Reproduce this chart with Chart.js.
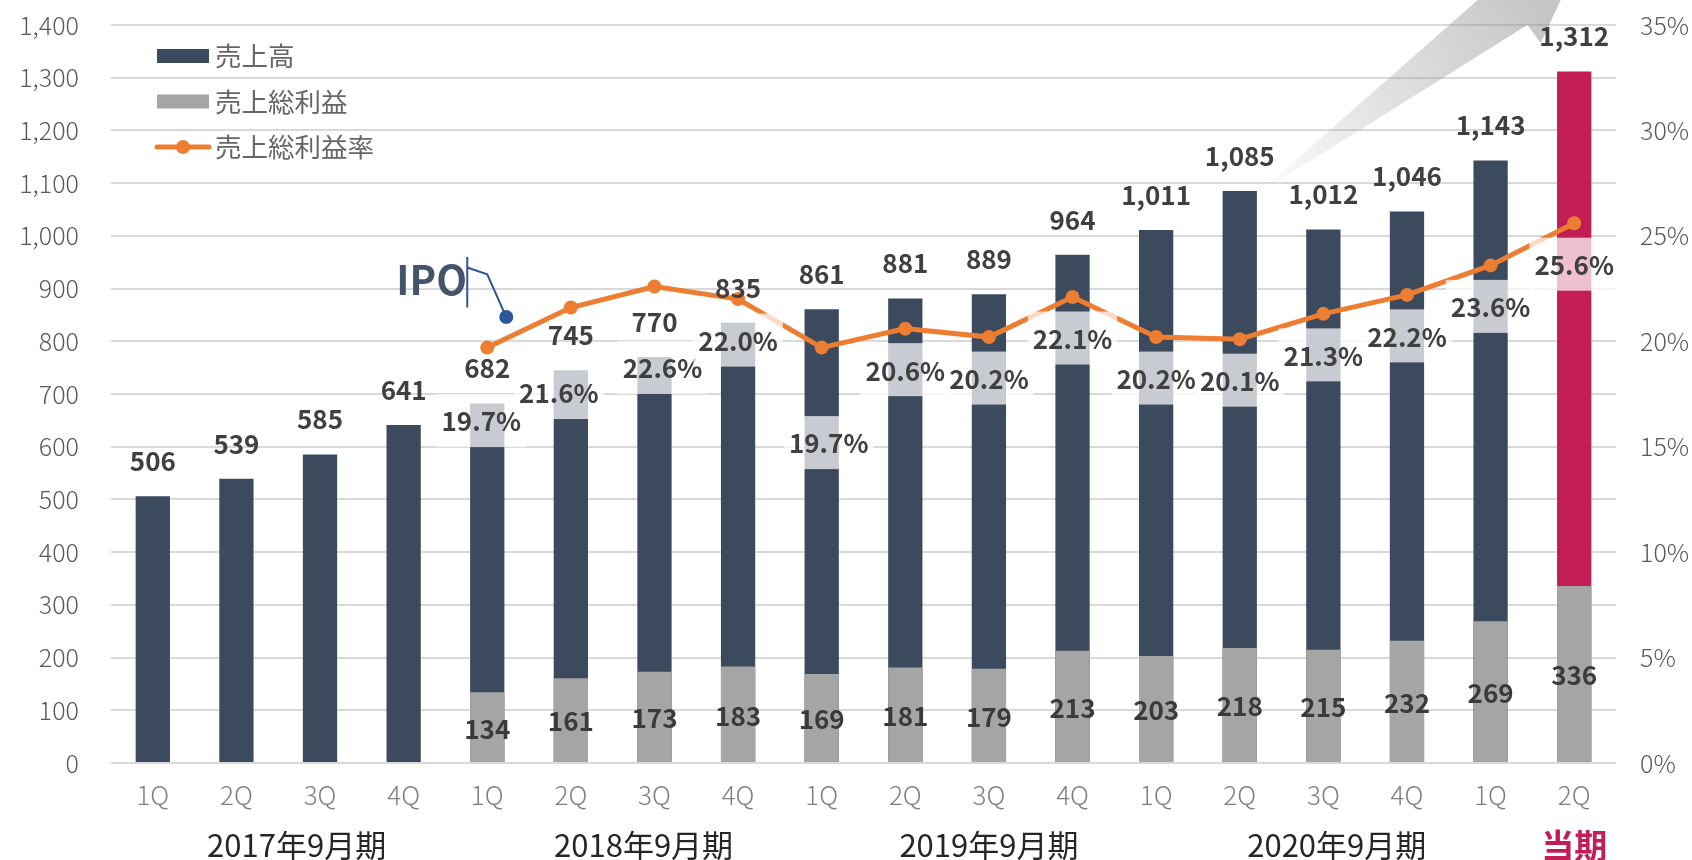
<!DOCTYPE html>
<html lang="ja">
<head>
<meta charset="utf-8">
<script src="https://cdn.jsdelivr.net/npm/chart.js@4.4.1/dist/chart.umd.min.js"></script>
<style>
  html, body { margin: 0; padding: 0; background: #fff; }
</style>
</head>
<body>
<canvas id="salesChart" width="1692" height="860"></canvas>
<script>
// ── Data ─────────────────────────────────────────────
const quarters    = ['1Q','2Q','3Q','4Q','1Q','2Q','3Q','4Q','1Q','2Q','3Q','4Q','1Q','2Q','3Q','4Q','1Q','2Q'];
const fiscalYears = ['2017年9月期','2018年9月期','2019年9月期','2020年9月期','当期'];
const sales       = [506,539,585,641,682,745,770,835,861,881,889,964,1011,1085,1012,1046,1143,1312];
const grossProfit = [null,null,null,null,134,161,173,183,169,181,179,213,203,218,215,232,269,336];
const grossMargin = [null,null,null,null,19.7,21.6,22.6,22.0,19.7,20.6,20.2,22.1,20.2,20.1,21.3,22.2,23.6,25.6];

// ── Layout helpers (not data) ────────────────────────
const yearLabelAt = [1.72, 5.87, 10.0, 14.16, 17];
const pctDrop     = [0,0,0,0,73,85,81,41,95,41,41,41,41,41,41,41,41,41];
const pctShiftX   = [0,0,0,0,-6,-12,8,0,7,0,0,0,0,0,0,0,0,0];

const FONT   = "'Noto Sans CJK JP', 'Noto Sans', sans-serif";
const NAVY   = '#3C4A5D';
const GRAY   = '#A5A5A5';
const RED    = '#C21D55';
const ORANGE = '#ED7D31';
const CURRENT = sales.length - 1;

// fixed axis widths, no extra top/bottom padding from tick labels
const fixWidth = w => s => { s.width = w; s.paddingTop = 0; s.paddingBottom = 0; };

// arrow drawn behind the bars
const arrowPlugin = {
  id: 'arrow',
  beforeDatasetsDraw(chart) {
    const { ctx, scales: { x, y } } = chart;
    const px = i => x.getPixelForValue(i);
    const py = v => y.getPixelForValue(v);
    const tail = [px(13.2), py(1078)];
    ctx.save();
    const g = ctx.createLinearGradient(tail[0], tail[1], px(16.6), py(1440));
    g.addColorStop(0, 'rgba(150,150,150,0.0)');
    g.addColorStop(0.45, 'rgba(150,150,150,0.28)');
    g.addColorStop(1, 'rgba(140,140,140,0.5)');
    ctx.fillStyle = g;
    ctx.beginPath();
    ctx.moveTo(tail[0], tail[1]);
    ctx.lineTo(px(15.85), py(1448));
    ctx.lineTo(px(16.84), py(1448));
    ctx.lineTo(px(16.6), py(1366));
    ctx.lineTo(px(16.44), py(1400));
    ctx.closePath();
    ctx.fill();
    ctx.restore();
  }
};

const labelPlugin = {
  id: 'labels',
  afterDatasetsDraw(chart) {
    const { ctx, chartArea, scales: { x, y, y1 } } = chart;
    ctx.save();
    ctx.textAlign = 'center';
    ctx.textBaseline = 'middle';

    // margin % boxes
    ctx.font = `bold 26px ${FONT}`;
    grossMargin.forEach((v, i) => {
      if (v == null) return;
      const cx  = x.getPixelForValue(i) + pctShiftX[i];
      const cy  = y1.getPixelForValue(v) + pctDrop[i];
      const txt = v.toFixed(1) + '%';
      const w   = ctx.measureText(txt).width + 10;
      ctx.fillStyle = 'rgba(255,255,255,0.72)';
      ctx.fillRect(cx - w / 2, cy - 26.5, w, 53);
      ctx.fillStyle = '#404040';
      ctx.fillText(txt, cx, cy + 1);
    });

    // sales on top of bars
    sales.forEach((v, i) => {
      ctx.fillStyle = '#404040';
      ctx.fillText(v.toLocaleString('en-US'), x.getPixelForValue(i), y.getPixelForValue(v) - 35);
    });

    // gross profit inside gray bars
    grossProfit.forEach((v, i) => {
      if (v == null) return;
      const cy = (y.getPixelForValue(v) + y.getPixelForValue(0)) / 2;
      ctx.fillStyle = '#3A3A3A';
      ctx.fillText(String(v), x.getPixelForValue(i), cy + 1);
    });

    // fiscal year labels under the quarters
    fiscalYears.forEach((t, i) => {
      const cur = i === fiscalYears.length - 1;
      ctx.font = cur ? `bold 33px ${FONT}` : `31px ${FONT}`;
      ctx.fillStyle = cur ? RED : '#262626';
      ctx.fillText(t, x.getPixelForValue(yearLabelAt[i]), chartArea.bottom + 82);
    });

    // IPO marker
    const bx = x.getPixelForValue(4);
    ctx.strokeStyle = '#2F5597';
    ctx.fillStyle = '#2F5597';
    ctx.lineWidth = 2;
    ctx.beginPath();
    ctx.moveTo(bx - 20, y.getPixelForValue(960));
    ctx.lineTo(bx - 20, y.getPixelForValue(864));
    ctx.stroke();
    ctx.beginPath();
    ctx.moveTo(bx - 20, y.getPixelForValue(940));
    ctx.lineTo(bx, y.getPixelForValue(927));
    ctx.lineTo(bx + 19, y.getPixelForValue(846));
    ctx.stroke();
    ctx.beginPath();
    ctx.arc(bx + 19, y.getPixelForValue(846), 7, 0, Math.PI * 2);
    ctx.fill();
    ctx.font = `bold 40px ${FONT}`;
    ctx.textAlign = 'left';
    ctx.fillStyle = '#44546A';
    ctx.fillText('IPO', bx - 91, y.getPixelForValue(916));

    ctx.restore();
  },

  // legend inside the plot, top-left
  afterDraw(chart) {
    const { ctx } = chart;
    const items = chart.data.datasets.slice().reverse();
    ctx.save();
    ctx.font = `26.5px ${FONT}`;
    ctx.textBaseline = 'middle';
    ctx.textAlign = 'left';
    items.forEach((ds, k) => {
      const yy = 56 + k * 45.5;
      if (ds.type === 'line') {
        ctx.strokeStyle = ORANGE;
        ctx.lineWidth = 5;
        ctx.lineCap = 'round';
        ctx.beginPath();
        ctx.moveTo(157, yy);
        ctx.lineTo(209, yy);
        ctx.stroke();
        ctx.fillStyle = ORANGE;
        ctx.beginPath();
        ctx.arc(183, yy, 7, 0, Math.PI * 2);
        ctx.fill();
      } else {
        ctx.fillStyle = ds.legendColor;
        ctx.fillRect(157, yy - 7, 52, 14);
      }
      ctx.fillStyle = '#666666';
      ctx.fillText(ds.label, 215, yy);
    });
    ctx.restore();
  }
};

new Chart(document.getElementById('salesChart'), {
  type: 'bar',
  data: {
    labels: quarters,
    datasets: [
      {
        type: 'line',
        label: '売上総利益率',
        data: grossMargin,
        yAxisID: 'y1',
        borderColor: ORANGE,
        backgroundColor: ORANGE,
        borderWidth: 5,
        pointRadius: 7,
        pointBorderWidth: 0,
        pointBackgroundColor: ORANGE,
        tension: 0,
        order: 0
      },
      {
        label: '売上総利益',
        data: grossProfit,
        yAxisID: 'y',
        backgroundColor: GRAY,
        legendColor: GRAY,
        grouped: false,
        barPercentage: 0.41,
        categoryPercentage: 1,
        order: 1
      },
      {
        label: '売上高',
        data: sales,
        yAxisID: 'y',
        backgroundColor: sales.map((_, i) => i === CURRENT ? RED : NAVY),
        legendColor: NAVY,
        grouped: false,
        barPercentage: 0.41,
        categoryPercentage: 1,
        order: 2
      }
    ]
  },
  options: {
    responsive: false,
    devicePixelRatio: 1,
    animation: false,
    layout: { padding: { top: 25, left: 0, right: 0, bottom: 0 } },
    plugins: {
      legend:  { display: false },
      tooltip: { enabled: false }
    },
    scales: {
      x: {
        grid:   { display: false },
        border: { display: false },
        ticks:  { color: '#7F7F7F', font: { family: FONT, size: 26, weight: '300' }, padding: 9 },
        afterFit: s => { s.height = 97; }
      },
      y: {
        position: 'left',
        min: 0, max: 1400,
        grid:   { color: '#D9D9D9', lineWidth: 2, drawTicks: false },
        border: { display: false },
        ticks:  {
          stepSize: 100, padding: 32, color: '#595959',
          font: { family: FONT, size: 25, weight: '300' },
          callback: v => v.toLocaleString('en-US')
        },
        afterFit: fixWidth(111)
      },
      y1: {
        position: 'right',
        min: 0, max: 35,
        grid:   { display: false, drawTicks: false },
        border: { display: false },
        ticks:  {
          stepSize: 5, padding: 24, color: '#595959',
          font: { family: FONT, size: 25, weight: '300' },
          callback: v => v + '%'
        },
        afterFit: fixWidth(76)
      }
    }
  },
  plugins: [arrowPlugin, labelPlugin]
});
</script>
</body>
</html>
